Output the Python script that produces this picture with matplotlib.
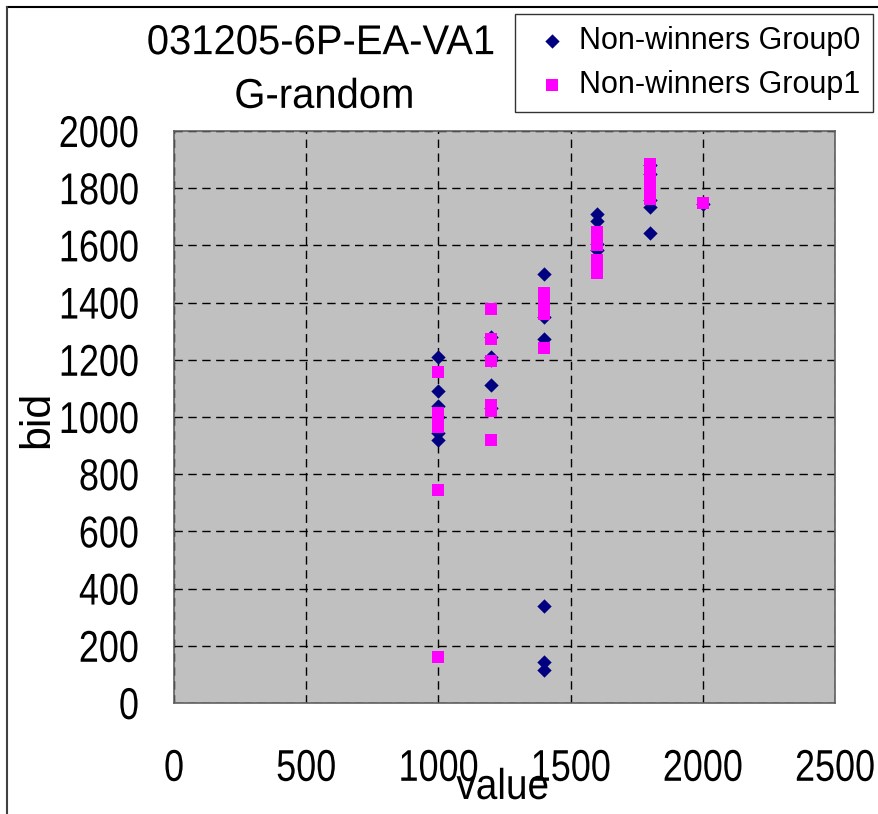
import matplotlib
matplotlib.use("Agg")
import matplotlib.pyplot as plt
from matplotlib.lines import Line2D
from matplotlib.patheffects import AbstractPathEffect
from matplotlib.transforms import Affine2D

plt.rcParams['font.family'] = ['Liberation Sans', 'DejaVu Sans']

# bids of non-winners, by value level
g0_value = [1000, 1000, 1000, 1000, 1000, 1000,
            1200, 1200, 1200, 1200, 1200,
            1400, 1400, 1400, 1400, 1400, 1400,
            1600, 1600, 1600, 1600,
            1800, 1800, 1800, 1800, 1800,
            2000]
g0_bid = [1210, 1090, 1040, 1000, 945, 920,
          1280, 1210, 1200, 1112, 1030,
          1500, 1350, 1273, 339, 143, 115,
          1710, 1685, 1605, 1585,
          1880, 1850, 1760, 1733, 1643,
          1745]

g1_value = [1000, 1000, 1000, 1000, 1000, 1000,
            1200, 1200, 1200, 1200, 1200, 1200,
            1400, 1400, 1400, 1400, 1400,
            1600, 1600, 1600, 1600, 1600, 1600,
            1800, 1800, 1800, 1800, 1800, 1800,
            2000]
g1_bid = [1157, 1014, 990, 965, 745, 160,
          1378, 1273, 1195, 1042, 1020, 920,
          1434, 1409, 1385, 1360, 1241,
          1647, 1622, 1600, 1549, 1524, 1503,
          1885, 1860, 1836, 1811, 1787, 1762,
          1748]

x_ticks = [0, 500, 1000, 1500, 2000, 2500]
y_ticks = [0, 200, 400, 600, 800, 1000, 1200, 1400, 1600, 1800, 2000]


class Squeeze(AbstractPathEffect):
    """Narrow a text horizontally, keeping its left/right edge or centre fixed."""

    def __init__(self, sx, anchor="center"):
        super().__init__()
        self.sx = sx
        self.anchor = anchor

    def draw_path(self, renderer, gc, tpath, affine, rgbFace=None):
        ext = tpath.get_extents(affine)
        if self.anchor == "left":
            x0 = ext.x0
        elif self.anchor == "right":
            x0 = ext.x1
        else:
            x0 = 0.5 * (ext.x0 + ext.x1)
        squeeze = Affine2D().translate(-x0, 0).scale(self.sx, 1).translate(x0, 0)
        renderer.draw_path(gc, tpath, affine + squeeze, rgbFace)


fig = plt.figure(figsize=(8.79, 8.14), dpi=100)
ax = fig.add_axes([0.198, 0.1364, 0.752, 0.7027])
ax.set_facecolor("#C0C0C0")

ax.scatter(g0_value, g0_bid, marker="D", s=7.3 ** 2, color="#000080",
           linewidths=0, label="Non-winners Group0", zorder=3)
ax.scatter(g1_value, g1_bid, marker="s", s=9.2 ** 2, color="#FF00FF",
           linewidths=0, label="Non-winners Group1", zorder=4)

ax.set_xlim(0, 2500)
ax.set_ylim(0, 2000)
ax.set_xticks(x_ticks)
ax.set_yticks(y_ticks)
ax.grid(True, color="black", ls=(0, (6, 4)), lw=1.0)
ax.set_axisbelow(True)
ax.tick_params(axis="both", length=0, labelsize=32)
ax.tick_params(axis="x", pad=33)
ax.tick_params(axis="y", pad=25)
for lbl in ax.get_xticklabels():
    lbl.set_path_effects([Squeeze(0.81, "center")])
for lbl in ax.get_yticklabels():
    lbl.set_path_effects([Squeeze(0.81, "right")])
for s in ax.spines.values():
    s.set_color("#606060")
    s.set_linewidth(1.2)

# axis titles placed in figure coords so "value" sits right under the tick row
fig.text(0.572, 0.032, "value", fontsize=31, ha="center", va="center",
         path_effects=[Squeeze(0.9)])
fig.text(0.042, 0.485, "bid", fontsize=31, ha="center", va="center", rotation=90)

fig.text(0.365, 0.947, "031205-6P-EA-VA1", fontsize=30, ha="center", va="center",
         path_effects=[Squeeze(0.96)])
fig.text(0.369, 0.881, "G-random", fontsize=30, ha="center", va="center",
         path_effects=[Squeeze(0.96)])

leg = ax.legend(loc="upper right", bbox_to_anchor=(0.993, 0.983), bbox_transform=fig.transFigure,
                fontsize=22, frameon=True, fancybox=False, borderpad=0.4,
                handletextpad=0.1, handlelength=1.6, labelspacing=0.45, borderaxespad=0)
leg.get_frame().set_edgecolor("black")
leg.get_frame().set_linewidth(1.0)

# outer chart border (top and left edges)
fig.add_artist(Line2D([0.0075, 1.0], [0.9914, 0.9914], transform=fig.transFigure,
                      color="black", lw=1.5))
fig.add_artist(Line2D([0.0075, 0.0075], [0.0, 0.9914], transform=fig.transFigure,
                      color="#404040", lw=1.5))

fig.savefig("out.png", dpi=100)
